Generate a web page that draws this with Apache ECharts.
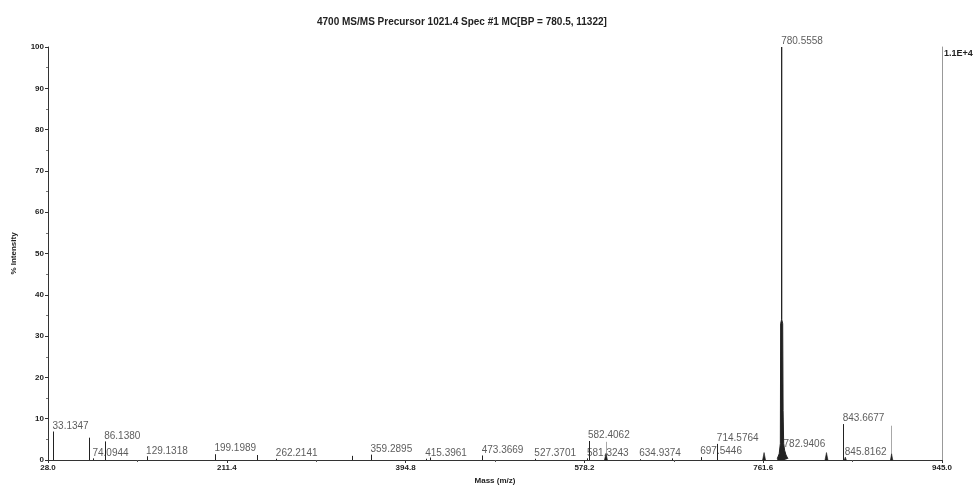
<!DOCTYPE html>
<html>
<head>
<meta charset="utf-8">
<script src="https://cdn.jsdelivr.net/npm/echarts@6/dist/echarts.min.js"></script>
<style>
  html, body { margin: 0; padding: 0; background: #fff; }
  #chart { width: 976px; height: 490px; }
</style>
</head>
<body>
<div id="chart"></div>
<script>
// Axis ticks
const xTickValues = [28.0, 211.4, 394.8, 578.2, 761.6, 945.0];
const xMinorTickValues = [119.7, 303.1, 486.5, 669.9, 853.3];

// Stick peaks (m/z, % intensity, half base width in m/z)
const peakMz = [33.13, 69.7, 74.09, 86.14, 129.13, 199.2, 242.0, 262.21, 339.4, 359.29, 415.4, 419.7, 473.37, 527.37, 581.32, 582.41, 600.3, 634.94, 667.8, 697.54, 714.58, 762.5, 826.5, 843.67, 845.82, 893.3];
const peakIntensity = [6.9, 5.4, 0.4, 4.5, 0.9, 1.4, 1.2, 0.3, 1.0, 1.3, 0.3, 0.6, 1.1, 0.3, 0.4, 4.6, 1.6, 0.2, 0.4, 0.7, 3.9, 1.8, 1.8, 8.7, 0.7, 1.5];
const peakHalfWidth = [0, 0, 0, 0, 0, 0, 0, 0, 0, 0, 0, 0, 0, 0, 0, 0, 1.5, 0, 0, 0, 0, 1.5, 1.5, 0, 1.0, 1.2];

// Grey (highlighted) peaks
const greyMz = [600.2, 893.2];
const greyIntensity = [4.4, 8.3];

// Base peak profile
const mainMz = [776.0, 778.0, 779.2, 779.5, 780.45, 780.55, 780.65, 781.6, 782.0, 782.6, 783.5, 785.0, 787.0];
const mainIntensity = [0.3, 1.5, 4, 33, 34, 100, 34, 33, 12, 4, 2.4, 1.2, 0.3];

// Peak annotations
const labelText = ['33.1347', '74.0944', '86.1380', '129.1318', '199.1989', '262.2141', '359.2895', '415.3961', '473.3669', '527.3701', '581.3243', '582.4062', '634.9374', '697.5446', '714.5764', '780.5558', '782.9406', '843.6677', '845.8162'];
const labelMz = [33.1347, 74.0944, 86.1380, 129.1318, 199.1989, 262.2141, 359.2895, 415.3961, 473.3669, 527.3701, 581.3243, 582.4062, 634.9374, 697.5446, 714.5764, 780.5558, 782.9406, 843.6677, 845.8162];
const labelIntensity = [6.9, 0.3, 4.5, 0.9, 1.4, 0.3, 1.25, 0.3, 1.1, 0.3, 0.3, 4.65, 0.2, 0.7, 4.0, 100, 2.45, 8.7, 0.6];

const FONT = 'Liberation Sans, Arial, sans-serif';

const chart = echarts.init(document.getElementById('chart'), null, { renderer: 'canvas' });

function stickItem(params, api) {
  const m = api.value(0);
  const h = api.value(1);
  const hw = api.value(2) || 0;
  const top = api.coord([m, h]);
  const base = api.coord([m, 0]);
  const color = api.visual('color');
  if (hw > 0) {
    const l = api.coord([m - hw, 0]);
    const r = api.coord([m + hw, 0]);
    return {
      type: 'polygon',
      shape: { points: [l, top, r] },
      style: { fill: color, stroke: color, lineWidth: 0.6 }
    };
  }
  const x = Math.round(top[0]) + 0.5;
  return {
    type: 'line',
    shape: { x1: x, y1: base[1], x2: x, y2: top[1] },
    style: { stroke: color, lineWidth: 1 }
  };
}

chart.setOption({
  animation: false,
  title: {
    text: '4700 MS/MS Precursor 1021.4 Spec #1 MC[BP = 780.5, 11322]',
    left: 312,
    top: 12,
    textStyle: { fontFamily: FONT, fontSize: 10, fontWeight: 'bold', color: '#222' }
  },
  grid: { left: 48, right: 34, top: 47, bottom: 24 },
  xAxis: [
    {
      type: 'value',
      min: 28,
      max: 945,
      name: 'Mass (m/z)',
      nameLocation: 'middle',
      nameGap: 17,
      nameTextStyle: { fontFamily: FONT, fontSize: 8, fontWeight: 'bold', color: '#222' },
      axisLine: { lineStyle: { color: '#333', width: 1 } },
      axisTick: { customValues: xTickValues, length: 3, lineStyle: { color: '#333' } },
      axisLabel: {
        customValues: xTickValues,
        formatter: v => v.toFixed(1),
        margin: 4,
        fontFamily: FONT, fontSize: 8, fontWeight: 'bold', color: '#222'
      },
      splitLine: { show: false }
    },
    {
      type: 'value',
      min: 28,
      max: 945,
      position: 'bottom',
      axisLine: { show: false },
      axisTick: { customValues: xMinorTickValues, length: 2, lineStyle: { color: '#555' } },
      axisLabel: { show: false },
      splitLine: { show: false }
    }
  ],
  yAxis: [
    {
      type: 'value',
      min: 0,
      max: 100,
      interval: 10,
      name: '% Intensity',
      nameLocation: 'middle',
      nameRotate: 90,
      nameGap: 30,
      nameTextStyle: { fontFamily: FONT, fontSize: 8, fontWeight: 'bold', color: '#222' },
      axisLine: { show: true, lineStyle: { color: '#333', width: 1 } },
      axisTick: { show: true, length: 3, lineStyle: { color: '#333' } },
      minorTick: { show: true, splitNumber: 2, length: 2, lineStyle: { color: '#777' } },
      axisLabel: { margin: 4, fontFamily: FONT, fontSize: 8, fontWeight: 'bold', color: '#222' },
      splitLine: { show: false }
    },
    {
      type: 'value',
      min: 0,
      max: 11322,
      position: 'right',
      name: '1.1E+4',
      nameLocation: 'end',
      nameGap: 0,
      nameTextStyle: {
        fontFamily: FONT, fontSize: 9, fontWeight: 'bold', color: '#222',
        align: 'left', verticalAlign: 'top', padding: [2, 0, 0, 2]
      },
      axisLine: { show: true, lineStyle: { color: '#999', width: 1 } },
      axisTick: { show: false },
      axisLabel: { show: false },
      splitLine: { show: false }
    }
  ],
  series: [
    {
      name: 'grey peaks',
      type: 'custom',
      xAxisIndex: 0,
      yAxisIndex: 0,
      itemStyle: { color: '#a8a8a8' },
      renderItem: stickItem,
      data: greyMz.map((m, i) => [m, greyIntensity[i], 0])
    },
    {
      name: 'base peak',
      type: 'line',
      xAxisIndex: 0,
      yAxisIndex: 0,
      symbol: 'none',
      lineStyle: { color: '#222', width: 1 },
      areaStyle: { color: '#222', opacity: 1 },
      data: mainMz.map((m, i) => [m, mainIntensity[i]])
    },
    {
      name: 'peaks',
      type: 'custom',
      xAxisIndex: 0,
      yAxisIndex: 0,
      itemStyle: { color: '#222' },
      renderItem: stickItem,
      data: peakMz.map((m, i) => [m, peakIntensity[i], peakHalfWidth[i]])
    },
    {
      name: 'labels',
      type: 'scatter',
      xAxisIndex: 0,
      yAxisIndex: 0,
      symbolSize: 1,
      itemStyle: { color: 'transparent' },
      silent: true,
      label: {
        show: true,
        position: [0, 0],
        align: 'left',
        verticalAlign: 'bottom',
        offset: [1, 3],
        formatter: p => p.data[2],
        fontFamily: FONT,
        fontSize: 10,
        color: '#333'
      },
      labelLayout: { hideOverlap: false },
      data: labelMz.map((m, i) => [m, labelIntensity[i], labelText[i]])
    }
  ]
});
</script>
</body>
</html>
